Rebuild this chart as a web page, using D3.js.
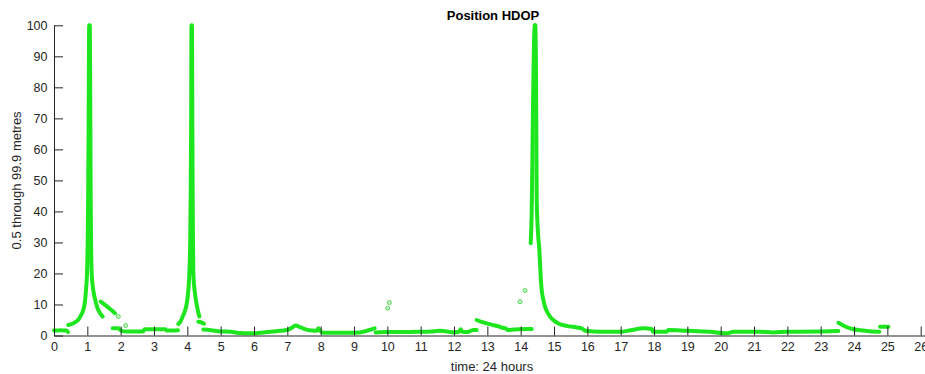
<!DOCTYPE html>
<html><head><meta charset="utf-8">
<script src="https://cdn.jsdelivr.net/npm/d3@7"></script>
<style>
html,body{margin:0;padding:0;background:#fff;}
svg{display:block;}
text{font-family:"Liberation Sans",Arial,Helvetica,sans-serif;}
</style></head>
<body>
<svg id="chart" width="925" height="374"></svg>
<script>
// ---- data (time in hours, HDOP value) ----
const xTicks = d3.range(0, 27);
const yTicks = [0,10,20,30,40,50,60,70,80,90,100];

const segStart = [[0,1.6],[0.1,1.6],[0.2,1.7],[0.3,1.6],[0.38,1.6],[0.42,1.1]];
const segSpike1 = [[0.43,3.4],[0.55,3.8],[0.65,4.4],[0.73,5.1],[0.8,6.3],[0.88,8.3],[0.93,11],[0.96,14.7],[0.99,20],[1.01,30],[1.025,45],[1.04,70],[1.055,100],[1.075,100],[1.09,70],[1.1,45],[1.115,28],[1.13,20],[1.18,14.5],[1.23,11.8],[1.3,9],[1.37,7.4],[1.46,6.1]];
const segAfter1 = [[1.4,10.9],[1.55,9.7],[1.7,8.4],[1.83,7.2]];
const segLow1 = [[1.76,2.3],[1.93,2.3],[2.03,1.5],[2.2,1.3],[2.67,1.3],[2.72,2.0],[3.0,2.0],[3.33,2.0],[3.38,1.6],[3.72,1.7]];
const segSpike2 = [[3.73,3.7],[3.8,4.6],[3.86,6.1],[3.93,8],[3.98,10.2],[4.02,13.5],[4.06,20],[4.085,30],[4.1,45],[4.115,70],[4.125,100],[4.14,100],[4.15,70],[4.16,45],[4.17,30],[4.18,20],[4.23,13.5],[4.28,10],[4.32,7.8],[4.36,6.1]];
const segAfter2 = [[4.33,4.4],[4.42,4.2],[4.5,3.8]];
const segLow2 = [[4.48,1.9],[4.7,1.7],[5.0,1.3],[5.3,1.2],[5.58,0.8],[5.8,0.7],[6.0,0.7],[6.28,1.0],[6.5,1.2],[6.78,1.5],[7.0,1.8],[7.15,2.6],[7.25,3.2],[7.4,2.6],[7.55,2.0],[7.75,1.6],[7.88,1.5],[7.93,2.3],[7.98,1.6],[8.08,0.9],[8.4,0.9],[8.78,0.9],[9.18,1.0],[9.38,1.5],[9.5,1.9],[9.62,2.3]];
const segLow3 = [[9.65,1.0],[10.0,1.1],[10.5,1.1],[10.98,1.2],[11.3,1.3],[11.58,1.5],[11.8,1.3],[11.98,1.0],[12.15,1.2],[12.2,2.0],[12.25,1.2],[12.38,1.1],[12.5,1.5],[12.58,1.8],[12.68,1.8]];
const segLow4 = [[12.68,5.0],[12.8,4.5],[12.98,3.9],[13.2,3.3],[13.38,2.8],[13.45,2.5],[13.55,2.3],[13.6,1.8],[13.8,1.9],[13.98,2.0],[14.15,2.1],[14.33,2.1]];
const segSpike3a = [[14.3,29.7],[14.33,40],[14.35,55],[14.37,75],[14.4,95],[14.42,100]];
const segSpike3b = [[14.44,100],[14.46,85],[14.47,65],[14.48,44],[14.52,33],[14.56,27.6],[14.6,19],[14.63,14.7],[14.68,11.5],[14.73,9.3],[14.8,7.5],[14.88,6.1],[15.0,4.8],[15.13,3.9],[15.38,3.1],[15.68,2.6],[15.83,2.3],[15.9,1.8],[15.95,1.5],[16.38,1.2],[16.98,1.2],[17.3,1.7],[17.68,2.3],[17.93,2.1],[17.97,1.2],[18.38,1.2],[18.43,1.8],[18.98,1.55],[19.68,1.2],[20.18,0.7],[20.38,1.2],[21.18,1.2],[21.58,1.0],[21.98,1.2],[23.0,1.3],[23.53,1.45]];
const segEnd1 = [[23.53,4.1],[23.65,3.4],[23.83,2.5],[23.98,2.0],[24.2,1.7],[24.38,1.45],[24.76,1.2]];
const segEnd2 = [[24.78,2.8],[25.03,2.8]];
const strayPoints = [[1.93,6.1],[2.15,3.2],[10.01,8.8],[10.06,10.6],[13.98,10.9],[14.13,14.5]];

const segments = [segStart, segSpike1, segAfter1, segLow1, segSpike2, segAfter2, segLow2, segLow3, segLow4, segSpike3a, segSpike3b, segEnd1, segEnd2];

// ---- layout ----
const svg = d3.select("#chart");
const x = d3.scaleLinear().domain([0, 26.3]).range([54, 930.7]);
const y = d3.scaleLinear().domain([0, 100]).range([335.5, 25.3]);
const axisColor = "#262626";
const green = "#1ee61e";

// data
const line = d3.line().x(d => x(d[0])).y(d => y(d[1])).curve(d3.curveMonotoneX);
svg.append("g").selectAll("path").data(segments).join("path")
  .attr("d", line).attr("fill", "none").attr("stroke", green)
  .attr("stroke-width", 4).attr("stroke-linecap", "round").attr("stroke-linejoin", "round");

svg.append("g").selectAll("circle").data(strayPoints).join("circle")
  .attr("cx", d => x(d[0])).attr("cy", d => y(d[1])).attr("r", 2)
  .attr("fill", "#c8f5c8").attr("stroke", "#5ad65a").attr("stroke-width", 1);

// x axis
const xAxis = d3.axisBottom(x).tickValues(xTicks).tickSize(-9).tickPadding(7).tickFormat(d3.format("d"));
const gx = svg.append("g").attr("transform", `translate(0,${y(0)})`).call(xAxis);
gx.select(".domain").attr("stroke", axisColor);
gx.selectAll(".tick line").attr("stroke", axisColor);
gx.selectAll("text").attr("fill", axisColor).style("font-size", "12.5px");

// y axis
const yAxis = d3.axisLeft(y).tickValues(yTicks).tickSize(-9).tickPadding(6.5);
const gy = svg.append("g").attr("transform", `translate(${x(0)},0)`).call(yAxis);
gy.select(".domain").attr("stroke", axisColor).attr("d", `M0.5,${y(100)}V${y(0)}`);
gy.selectAll(".tick line").attr("stroke", axisColor);
gy.selectAll("text").attr("fill", axisColor).style("font-size", "12.5px");

// labels
svg.append("text").attr("x", 493).attr("y", 20).attr("text-anchor", "middle")
  .style("font-size", "13px").style("font-weight", "bold").attr("fill", "#000").text("Position HDOP");
svg.append("text").attr("x", 492).attr("y", 371).attr("text-anchor", "middle")
  .style("font-size", "13px").attr("fill", axisColor).text("time: 24 hours");
svg.append("text").attr("transform", `translate(21,${(y(0)+y(100))/2}) rotate(-90)`).attr("text-anchor", "middle")
  .style("font-size", "13px").attr("fill", axisColor).text("0.5 through 99.9 metres");
</script>
</body></html>
